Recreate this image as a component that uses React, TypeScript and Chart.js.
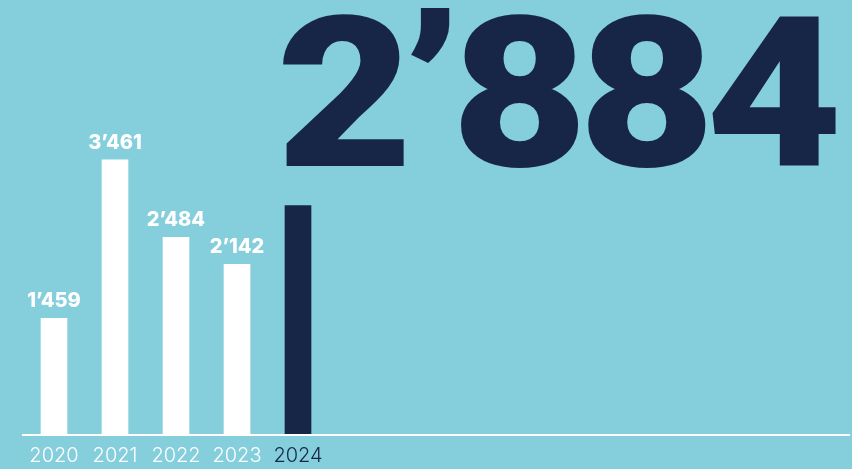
import React, { useEffect, useRef } from 'react';
import { Chart, registerables } from 'chart.js';
Chart.register(...registerables);

const years: string[] = ['2020', '2021', '2022', '2023', '2024'];
const cases: number[] = [1459, 3461, 2484, 2142, 2884];
const highlightIndex = 4;

const BG = '#85CEDC';
const NAVY = '#172546';
const WHITE = '#FFFFFF';

const fmt = (n: number) => String(n).replace(/\B(?=(\d{3})+(?!\d))/g, '\u2019');

export default function App() {
  const ref = useRef<HTMLCanvasElement>(null);

  useEffect(() => {
    document.body.style.margin = '0';
    document.body.style.background = BG;
    const canvas = ref.current;
    if (!canvas) return;

    const valueLabels = {
      id: 'valueLabels',
      afterDatasetsDraw(chart: any) {
        const ctx = chart.ctx;
        const meta = chart.getDatasetMeta(0);
        ctx.save();
        ctx.font = '800 20px Inter';
        ctx.fillStyle = WHITE;
        ctx.textAlign = 'center';
        ctx.textBaseline = 'alphabetic';
        meta.data.forEach((el: any, i: number) => {
          if (i === highlightIndex) return;
          ctx.fillText(fmt(cases[i]), el.x, el.y - 11);
        });
        ctx.restore();
      },
    };

    const baseline = {
      id: 'baseline',
      afterDatasetsDraw(chart: any) {
        const ctx = chart.ctx;
        const y = chart.chartArea.bottom + 1;
        ctx.save();
        ctx.strokeStyle = WHITE;
        ctx.lineWidth = 2;
        ctx.beginPath();
        ctx.moveTo(22, y);
        ctx.lineTo(850, y);
        ctx.stroke();
        ctx.restore();
      },
    };

    const bigNumber = {
      id: 'bigNumber',
      afterDraw(chart: any) {
        const ctx = chart.ctx;
        const text = fmt(cases[highlightIndex]);
        const family = '900 {s}px Roboto';
        ctx.save();
        ctx.fillStyle = NAVY;
        ctx.textBaseline = 'alphabetic';
        ctx.textAlign = 'left';
        ctx.font = family.replace('{s}', '100');
        const a = ctx.measureText('4').actualBoundingBoxAscent;
        const size = (100 * 149) / a;
        ctx.font = family.replace('{s}', String(size));
        const m8 = ctx.measureText('8');
        const w8 = m8.actualBoundingBoxLeft + m8.actualBoundingBoxRight;
        const sx = 118 / w8;
        let m = ctx.measureText(text);
        const ink = m.actualBoundingBoxLeft + m.actualBoundingBoxRight;
        const ls = (553 / sx - ink) / (text.length - 1);
        (ctx as any).letterSpacing = `${ls}px`;
        m = ctx.measureText(text);
        ctx.translate(283, 166);
        ctx.scale(sx, 1);
        ctx.fillText(text, m.actualBoundingBoxLeft, 0);
        ctx.restore();
      },
    };

    const chart = new Chart(canvas, {
      type: 'bar',
      data: {
        labels: years,
        datasets: [
          {
            data: cases,
            backgroundColor: cases.map((_, i) => (i === highlightIndex ? NAVY : WHITE)),
            borderWidth: 0,
            barThickness: 26,
          },
        ],
      },
      options: {
        responsive: false,
        animation: false,
        layout: { padding: { left: 23.5, right: 523.5, top: 0, bottom: 0 } },
        plugins: {
          legend: { display: false },
          tooltip: { enabled: false },
        },
        scales: {
          y: { display: false, min: 0, max: 5480 },
          x: {
            grid: { display: false, drawTicks: false },
            border: { display: false },
            afterFit: (scale: any) => {
              scale.height = 35;
            },
            ticks: {
              padding: 10,
              font: { family: 'Inter', size: 20, weight: '300' as any },
              color: (c: any) => (c.index === highlightIndex ? NAVY : WHITE),
            },
          },
        },
      },
      plugins: [valueLabels, baseline, bigNumber],
    });

    return () => chart.destroy();
  }, []);

  return (
    <div style={{ position: 'fixed', left: 0, top: 0, width: 852, height: 469, background: BG }}>
      <canvas ref={ref} width={852} height={469} style={{ display: 'block', width: 852, height: 469 }} />
    </div>
  );
}
